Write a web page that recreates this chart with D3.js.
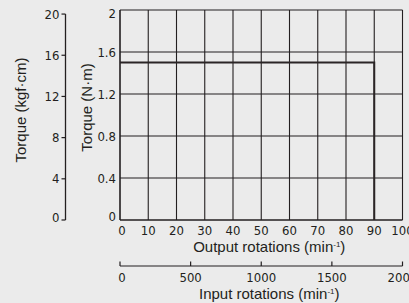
<!DOCTYPE html>
<html>
<head>
<meta charset="utf-8">
<script src="https://cdn.jsdelivr.net/npm/d3@7"></script>
<style>
  html, body { margin: 0; padding: 0; background: #ebebeb; }
  svg { display: block; }
  .tick-label { font-family: "Liberation Sans Narrow", "DejaVu Sans Condensed", sans-serif; font-size: 13px; fill: #231f20; }
  .title { font-family: "Liberation Sans", Arial, sans-serif; font-size: 15px; fill: #231f20; }
</style>
</head>
<body>
<svg id="chart" width="409" height="303"></svg>
<script>
// Output rotations vs torque (N·m)
const outputRpm = [0, 90, 90];
const torqueNm = [1.5, 1.5, 0];

const outputTicks = [0, 10, 20, 30, 40, 50, 60, 70, 80, 90, 100];
const inputTicks = [0, 500, 1000, 1500, 2000];
const nmTicks = [0, 0.4, 0.8, 1.2, 1.6, 2];
const nmLabels = ["0", "0.4", "0.8", "1.2", "1.6", "2"];
const kgfTicks = [0, 4, 8, 12, 16, 20];

const KGF_TO_NM = 0.0980665;

const svg = d3.select("svg#chart");
const ink = "#231f20";

const plot = { left: 120, right: 402.5, top: 10, bottom: 220 };

const x = d3.scaleLinear().domain([0, 100]).range([plot.left, plot.right]);
const xIn = d3.scaleLinear().domain([0, 2000]).range([plot.left, plot.right]);
const y = d3.scaleLinear().domain([0, 2]).range([plot.bottom, plot.top]);

// grid
const g = svg.append("g");
g.selectAll("line.v")
  .data(outputTicks)
  .enter()
  .append("line")
  .attr("x1", d => x(d)).attr("x2", d => x(d))
  .attr("y1", plot.top).attr("y2", plot.bottom)
  .attr("stroke", ink)
  .attr("stroke-width", d => (d === 0 ? 1.6 : 1.1));

g.selectAll("line.h")
  .data(nmTicks)
  .enter()
  .append("line")
  .attr("x1", plot.left).attr("x2", plot.right)
  .attr("y1", d => y(d)).attr("y2", d => y(d))
  .attr("stroke", ink)
  .attr("stroke-width", d => (d === 0 ? 1.6 : 1.1));

// torque line
const line = d3.line()
  .x(d => x(d[0]))
  .y(d => y(d[1]));

svg.append("path")
  .datum(outputRpm.map((v, i) => [v, torqueNm[i]]))
  .attr("d", line)
  .attr("fill", "none")
  .attr("stroke", "#2b2526")
  .attr("stroke-width", 2);

// N·m labels
svg.selectAll("text.nm")
  .data(nmTicks)
  .enter()
  .append("text")
  .attr("class", "tick-label")
  .attr("x", plot.left - 4)
  .attr("y", d => y(d) + (d === 0 ? -3.5 : d === 2 ? 3 : 0))
  .attr("dy", "0.35em")
  .attr("text-anchor", "end")
  .text((d, i) => nmLabels[i]);

// output rotation labels
svg.selectAll("text.out")
  .data(outputTicks)
  .enter()
  .append("text")
  .attr("class", "tick-label")
  .attr("x", d => x(d) + (d === 0 ? 2 : 0))
  .attr("y", 234.5)
  .attr("text-anchor", "middle")
  .text(d => d);

svg.append("text")
  .attr("class", "title")
  .attr("x", (plot.left + plot.right) / 2 + 8)
  .attr("y", 251.5)
  .attr("text-anchor", "middle")
  .html('Output rotations (min<tspan dy="-5" font-size="8">-1</tspan><tspan dy="5">)</tspan>');

// input rotations axis
const inAxis = svg.append("g");
inAxis.append("line")
  .attr("x1", plot.left).attr("x2", plot.right)
  .attr("y1", 266).attr("y2", 266)
  .attr("stroke", ink).attr("stroke-width", 1.2);
inAxis.selectAll("line.t")
  .data(inputTicks)
  .enter()
  .append("line")
  .attr("x1", d => xIn(d)).attr("x2", d => xIn(d))
  .attr("y1", 266).attr("y2", 261.5)
  .attr("stroke", ink).attr("stroke-width", 1.2);
inAxis.selectAll("text")
  .data(inputTicks)
  .enter()
  .append("text")
  .attr("class", "tick-label")
  .attr("x", d => xIn(d) + (d === 0 ? 2 : 0))
  .attr("y", 281.5)
  .attr("text-anchor", "middle")
  .text(d => d);

svg.append("text")
  .attr("class", "title")
  .attr("x", (plot.left + plot.right) / 2 + 8)
  .attr("y", 299)
  .attr("text-anchor", "middle")
  .html('Input rotations (min<tspan dy="-5" font-size="8">-1</tspan><tspan dy="5">)</tspan>');

// kgf·cm axis
const kx = 65.5;
const k = svg.append("g");
k.append("line")
  .attr("x1", kx).attr("x2", kx)
  .attr("y1", y(20 * KGF_TO_NM)).attr("y2", plot.bottom)
  .attr("stroke", ink).attr("stroke-width", 1.3);
k.selectAll("line.t")
  .data(kgfTicks)
  .enter()
  .append("line")
  .attr("x1", kx - 4).attr("x2", kx)
  .attr("y1", d => y(d * KGF_TO_NM)).attr("y2", d => y(d * KGF_TO_NM))
  .attr("stroke", ink).attr("stroke-width", 1.2);
k.selectAll("text")
  .data(kgfTicks)
  .enter()
  .append("text")
  .attr("class", "tick-label")
  .attr("x", kx - 6)
  .attr("y", d => y(d * KGF_TO_NM) + (d === 0 ? -3 : 0))
  .attr("dy", "0.35em")
  .attr("text-anchor", "end")
  .text(d => d);

// axis titles
svg.append("text")
  .attr("class", "title")
  .attr("transform", "translate(26,110) rotate(-90)")
  .attr("text-anchor", "middle")
  .text("Torque (kgf·cm)");

svg.append("text")
  .attr("class", "title")
  .attr("transform", "translate(92,107.5) rotate(-90)")
  .attr("text-anchor", "middle")
  .text("Torque (N·m)");
</script>
</body>
</html>
